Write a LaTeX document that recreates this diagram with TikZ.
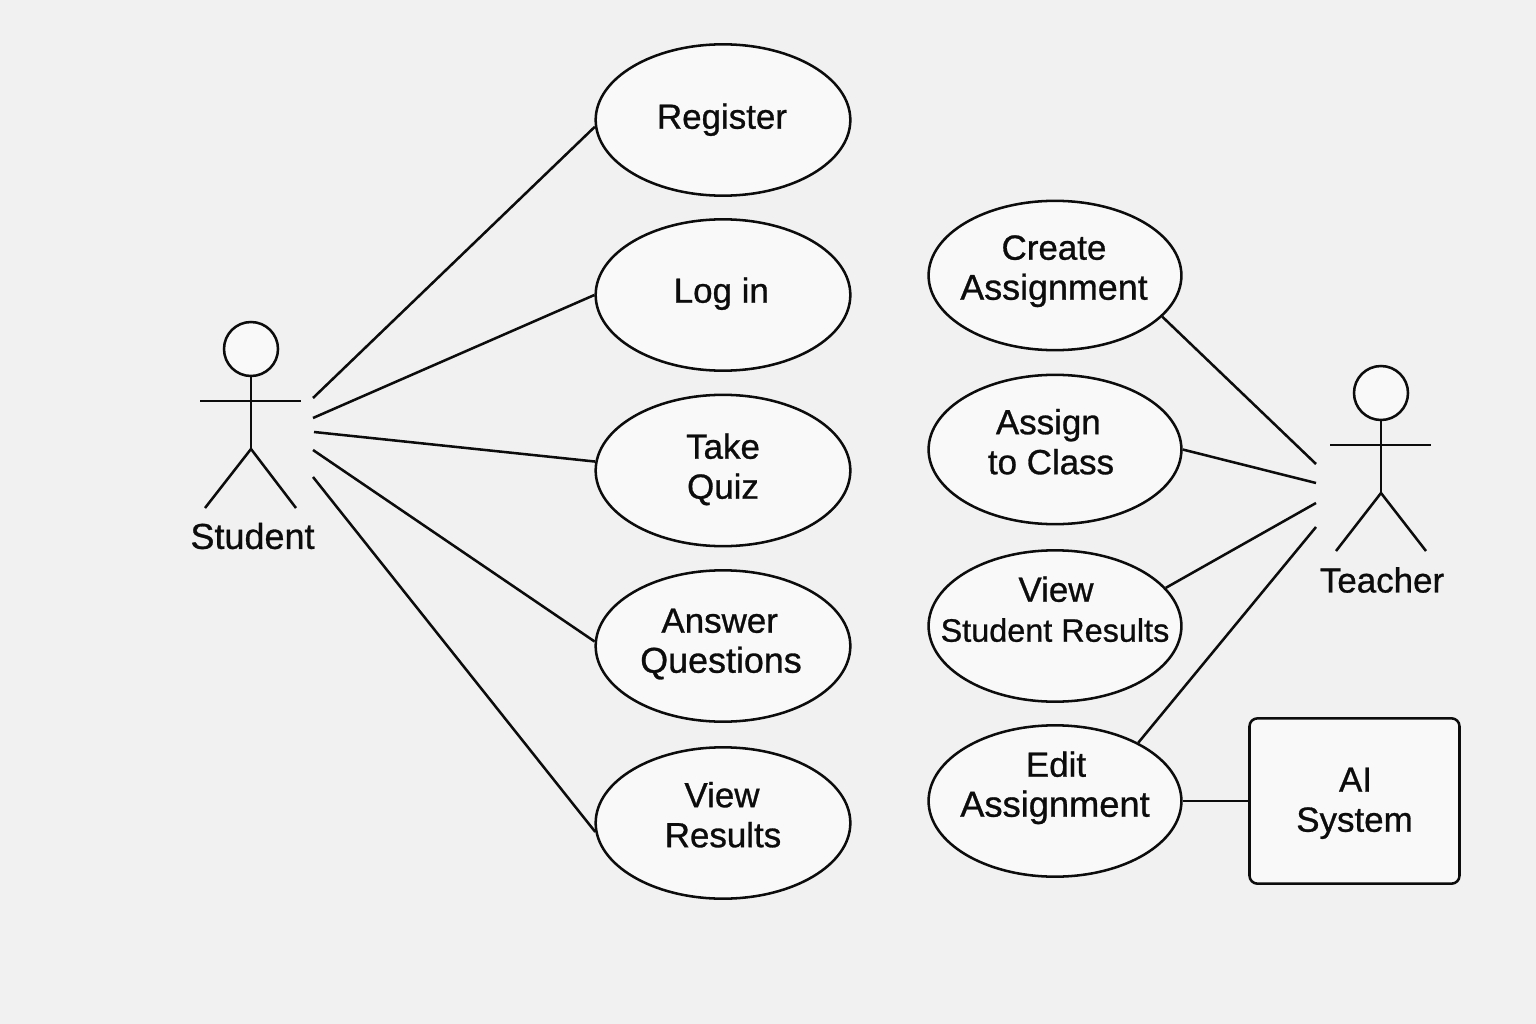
\documentclass[tikz,border=0pt]{standalone}
\usepackage{fontspec}
\setmainfont{Liberation Sans}[FakeBold=0.8]
\usetikzlibrary{shapes.geometric}
\definecolor{bgc}{HTML}{F1F1F1}
\definecolor{fillc}{HTML}{F9F9F9}
\definecolor{inkc}{HTML}{0C0C0C}
% #1 = upward shift of the text block in px, #2 = lines
\newcommand\blk[2]{\raisebox{\dimexpr(#1pt-11pt)*3/4\relax}[0pt][0pt]{\makebox[0pt]{\begin{tabular}{@{}c@{}}#2\end{tabular}}}}
% per-line horizontal shift in px
\newcommand\nudge[2]{\hspace*{#1pt}#2}
% per-line font size
\newcommand\sized[2]{{\fontsize{#1}{30}\selectfont #2}}
\tikzset{
  ln/.style={draw=inkc,line width=1.9pt},
  uc/.style={ln,shape=ellipse,fill=fillc,inner sep=0pt,font=\fontsize{26.2}{30}\selectfont,text=inkc},
  ucl/.style={uc,minimum width=191pt,minimum height=113.5pt},
  ucr/.style={uc,minimum width=189.6pt,minimum height=112pt},
  sysbox/.style={ln,fill=fillc,rounded corners=6pt,minimum width=157.5pt,minimum height=124pt,inner sep=0pt,font=\fontsize{26.2}{30}\selectfont,text=inkc},
  head/.style={ln,shape=circle,fill=fillc,minimum size=40.5pt,inner sep=0pt},
  actorname/.style={font=\fontsize{26.2}{30}\selectfont,text=inkc,inner sep=0pt},
}
\begin{document}
\begin{tikzpicture}[x=0.75pt,y=-0.75pt]
\fill[bgc] (0,0) rectangle (1536,1024);
\useasboundingbox (0,0) rectangle (1536,1024);
% use cases, student side
\node[ucl] (register) at (723,120) {\blk{2}{\nudge{-1.5}{Register}}};
\node[ucl] (login) at (723,295) {\blk{3}{\nudge{-2.5}{Log in}}};
\node[ucl] (quiz) at (723,470.5) {\blk{2.5}{Take\\Quiz}};
\node[ucl] (answer) at (723,646) {\blk{4}{\nudge{-5}{Answer}\\\nudge{-3}{\sized{26.9}{Questions}}}};
\node[ucl] (viewres) at (723,823) {\blk{6.5}{\nudge{-1.5}{View}\\Results}};
% use cases, teacher side
\node[ucr] (create) at (1055,275.5) {\blk{6.5}{\nudge{-1.5}{Create}\\\nudge{-1.5}{\sized{26.9}{Assignment}}}};
\node[ucr] (assign) at (1055,449.5) {\blk{6}{\nudge{-10}{Assign}\\\nudge{-6}{to Class}}};
\node[ucr,minimum height=113.5pt] (viewstud) at (1055,626) {\blk{15}{\nudge{1.5}{View}\\\sized{24.3}{Student Results}}};
\node[ucr,minimum height=113.5pt] (edit) at (1055,801) {\blk{15}{\nudge{1.5}{Edit}\\\sized{27.2}{Assignment}}};
\node[sysbox] (ai) at (1354.5,801) {\blk{0}{\nudge{1.5}{AI}\\System}};
% student actor
\node[head] (shead) at (251,349) {};
\coordinate (sarml) at (200,401);
\coordinate (sarmr) at (301,401);
\coordinate (ships) at (251,449);
\coordinate (slegl) at (205,508);
\coordinate (slegr) at (296,508);
\draw[ln] (shead) -- (ships);
\draw[ln] (sarml) -- (sarmr);
\draw[ln] (slegl) -- (ships) -- (slegr);
\node[actorname,font=\fontsize{27}{30}\selectfont] (student) at (252.5,536) {Student};
% teacher actor
\node[head] (thead) at (1381,393) {};
\coordinate (tarml) at (1330,445);
\coordinate (tarmr) at (1431,445);
\coordinate (thips) at (1381,493);
\coordinate (tlegl) at (1336,551);
\coordinate (tlegr) at (1426,551);
\draw[ln] (thead) -- (thips);
\draw[ln] (tarml) -- (tarmr);
\draw[ln] (tlegl) -- (thips) -- (tlegr);
\node[actorname] (teacher) at (1382,580) {Teacher};
% connector free ends
\coordinate (s1) at (313,398);
\coordinate (s2) at (313,418);
\coordinate (s3) at (314,432);
\coordinate (s4) at (313,450);
\coordinate (s5) at (313,477);
\coordinate (t1) at (1316,464);
\coordinate (t2) at (1316,483);
\coordinate (t3) at (1316,503);
\coordinate (t4) at (1316,527);
% connectors
\draw[ln] (s1) -- (register.183.6);
\draw[ln] (s2) -- (login.180.5);
\draw[ln] (s3) -- (quiz.176.2);
\draw[ln] (s4) -- (answer.178.6);
\draw[ln] (s5) -- (viewres.184);
\draw[ln] (t1) -- (create.-21);
\draw[ln] (t2) -- (assign.east);
\draw[ln] (t3) -- (viewstud.19.2);
\draw[ln] (t4) -- (edit.35.4);
\draw[ln] (edit.east) -- (ai.west);
\end{tikzpicture}
\end{document}
